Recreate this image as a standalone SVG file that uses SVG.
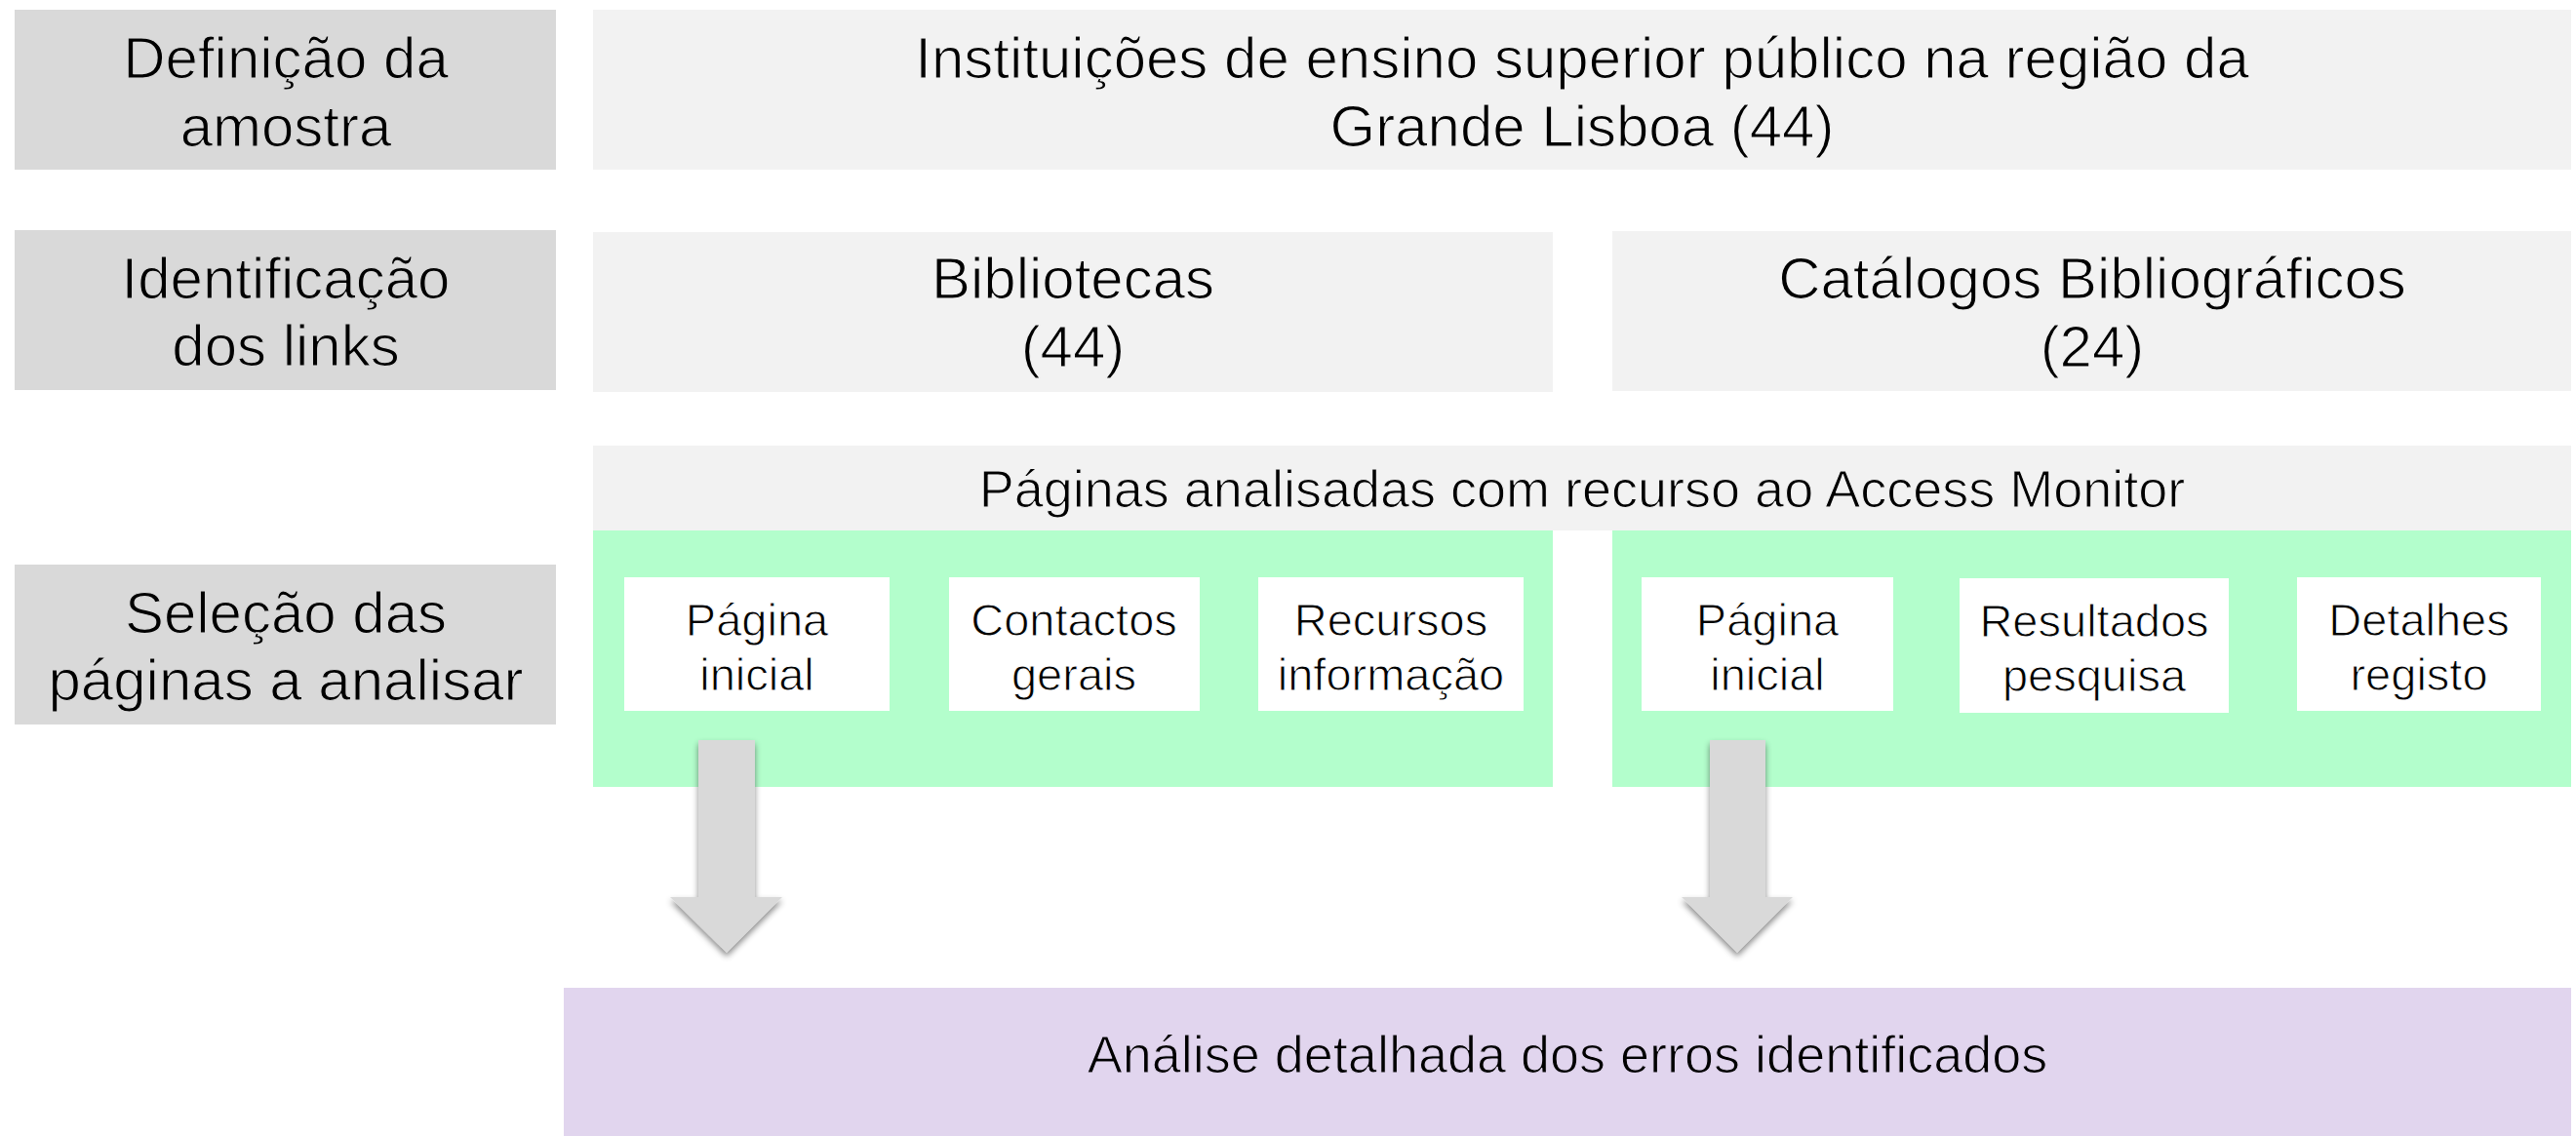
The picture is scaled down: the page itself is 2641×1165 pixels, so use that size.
<svg xmlns="http://www.w3.org/2000/svg" width="2641" height="1165" viewBox="0 0 2641 1165">
<style>
  text { font-family: "Liberation Sans", Arial, sans-serif; fill: #000; text-anchor: middle; stroke-linejoin: round; }
  .big { font-size: 60px; stroke-width: 1.2px; }
  .mid { font-size: 54px; stroke-width: 1.1px; }
  .sm { font-size: 47px; stroke-width: 1px; }
  .on-lab { stroke: #d9d9d9; }
  .on-lt { stroke: #f2f2f2; }
  .on-wht { stroke: #ffffff; }
  .on-pur { stroke: #e1d5ee; }
  .lab { fill: #d9d9d9; }
  .lt { fill: #f2f2f2; }
  .grn { fill: #b3fecc; }
  .wht { fill: #ffffff; }
  .pur { fill: #e1d5ee; }
  .arr { fill: #d9d9d9; filter: url(#sh); }
</style>
<defs>
  <filter id="sh" x="-30%" y="-10%" width="160%" height="130%">
    <feDropShadow dx="0" dy="4" stdDeviation="3" flood-color="#000" flood-opacity="0.45"/>
  </filter>
</defs>
<rect width="2641" height="1165" fill="#ffffff"/>

<g id="label-definicao">
  <rect class="lab" x="15" y="10" width="555" height="164"/>
  <text class="big on-lab" x="293" y="80">Definição da</text>
  <text class="big on-lab" x="293" y="150">amostra</text>
</g>
<g id="label-identificacao">
  <rect class="lab" x="15" y="236" width="555" height="164"/>
  <text class="big on-lab" x="293" y="306">Identificação</text>
  <text class="big on-lab" x="293" y="375">dos links</text>
</g>
<g id="label-selecao">
  <rect class="lab" x="15" y="579" width="555" height="164"/>
  <text class="big on-lab" x="293" y="649">Seleção das</text>
  <text class="big on-lab" x="293" y="718">páginas a analisar</text>
</g>

<g id="instituicoes">
  <rect class="lt" x="608" y="10" width="2028" height="164"/>
  <text class="big on-lt" x="1622" y="80">Instituições de ensino superior público na região da</text>
  <text class="big on-lt" x="1622" y="150">Grande Lisboa (44)</text>
</g>
<g id="bibliotecas">
  <rect class="lt" x="608" y="238" width="984" height="164"/>
  <text class="big on-lt" x="1100" y="306">Bibliotecas</text>
  <text class="big on-lt" x="1100" y="376">(44)</text>
</g>
<g id="catalogos">
  <rect class="lt" x="1653" y="237" width="983" height="164"/>
  <text class="big on-lt" x="2145" y="306">Catálogos Bibliográficos</text>
  <text class="big on-lt" x="2145" y="376">(24)</text>
</g>

<g id="paginas-analisadas">
  <rect class="lt" x="608" y="457" width="2028" height="87"/>
  <text class="mid on-lt" x="1622" y="520">Páginas analisadas com recurso ao Access Monitor</text>
</g>
<g id="grupo-bibliotecas">
  <rect class="grn" x="608" y="544" width="984" height="263"/>
</g>
<g id="grupo-catalogos">
  <rect class="grn" x="1653" y="544" width="983" height="263"/>
</g>

<g id="bib-pagina-inicial">
  <rect class="wht" x="640" y="592" width="272" height="137"/>
  <text class="sm on-wht" x="776" y="652">Página</text>
  <text class="sm on-wht" x="776" y="708">inicial</text>
</g>
<g id="bib-contactos">
  <rect class="wht" x="973" y="592" width="257" height="137"/>
  <text class="sm on-wht" x="1101" y="652">Contactos</text>
  <text class="sm on-wht" x="1101" y="708">gerais</text>
</g>
<g id="bib-recursos">
  <rect class="wht" x="1290" y="592" width="272" height="137"/>
  <text class="sm on-wht" x="1426" y="652">Recursos</text>
  <text class="sm on-wht" x="1426" y="708">informação</text>
</g>
<g id="cat-pagina-inicial">
  <rect class="wht" x="1683" y="592" width="258" height="137"/>
  <text class="sm on-wht" x="1812" y="652">Página</text>
  <text class="sm on-wht" x="1812" y="708">inicial</text>
</g>
<g id="cat-resultados">
  <rect class="wht" x="2009" y="593" width="276" height="138"/>
  <text class="sm on-wht" x="2147" y="653">Resultados</text>
  <text class="sm on-wht" x="2147" y="709">pesquisa</text>
</g>
<g id="cat-detalhes">
  <rect class="wht" x="2355" y="592" width="250" height="137"/>
  <text class="sm on-wht" x="2480" y="652">Detalhes</text>
  <text class="sm on-wht" x="2480" y="708">registo</text>
</g>

<g id="analise">
  <rect class="pur" x="578" y="1013" width="2058" height="152"/>
  <text class="mid on-pur" x="1607" y="1100">Análise detalhada dos erros identificados</text>
</g>

<g id="connectors">
  <path class="arr" d="M716 759 H774 V920 H802 L745 977 L687 920 H716 Z"/>
  <path class="arr" d="M1753 759 H1810 V920 H1838 L1781 977 L1724 920 H1753 Z"/>
</g>
</svg>
